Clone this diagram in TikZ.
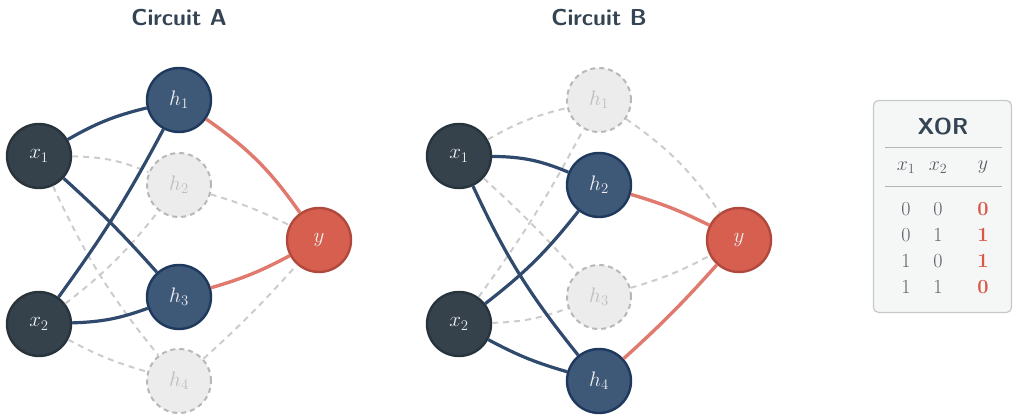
\documentclass[tikz,border=0pt]{standalone}
\usepackage{fix-cm}
\usepackage{fontspec}
\definecolor{inpfill}{RGB}{53,66,76}
\definecolor{inpdraw}{RGB}{40,52,60}
\definecolor{hidfill}{RGB}{62,88,120}
\definecolor{hiddraw}{RGB}{30,56,94}
\definecolor{idlefill}{RGB}{236,236,236}
\definecolor{idledraw}{RGB}{184,184,184}
\definecolor{idletext}{RGB}{190,190,190}
\definecolor{outfill}{RGB}{214,95,80}
\definecolor{outdraw}{RGB}{176,72,60}
\definecolor{nodetext}{RGB}{240,240,240}
\definecolor{wirecol}{RGB}{48,74,110}
\definecolor{redwire}{RGB}{224,122,110}
\definecolor{ghostcol}{RGB}{204,204,204}
\definecolor{titlecol}{RGB}{52,68,82}
\definecolor{boxfill}{RGB}{245,246,246}
\definecolor{boxdraw}{RGB}{198,201,203}
\definecolor{rulecol}{RGB}{176,181,184}
\definecolor{digitcol}{RGB}{88,96,102}
\definecolor{hotdigit}{RGB}{217,88,74}
\tikzset{
  neuron/.style={circle, minimum size=64pt, inner sep=0pt, line width=2.4pt,
    font=\fontsize{21}{25}\selectfont},
  inp/.style={neuron, fill=inpfill, draw=inpdraw, text=nodetext},
  hid/.style={neuron, fill=hidfill, draw=hiddraw, text=nodetext},
  idle/.style={neuron, fill=idlefill, draw=idledraw, line width=2pt,
    dash pattern=on 5pt off 4pt, text=idletext},
  outn/.style={neuron, fill=outfill, draw=outdraw, text=nodetext},
  wire/.style={draw=wirecol, line width=3.2pt},
  hotwire/.style={draw=redwire, line width=3.4pt},
  ghost/.style={draw=ghostcol, line width=2pt, dash pattern=on 6pt off 5pt},
  heading/.style={text=titlecol, font=\fontsize{23}{27}\selectfont\sffamily\bfseries},
  tablebox/.style={draw=boxdraw, fill=boxfill, line width=1.2pt, rounded corners=5pt},
  cell/.style={text=digitcol, font=\fontsize{20}{24}\selectfont},
  hotcell/.style={text=hotdigit, font=\fontsize{20}{24}\selectfont\bfseries},
  hrule/.style={draw=rulecol, line width=1pt},
  % curvature of each input -> hidden and hidden -> output link
  c11/.style={bend left=8},  c12/.style={bend left=11},
  c13/.style={bend left=3},  c14/.style={bend right=7},
  c21/.style={bend right=4}, c22/.style={bend right=7},
  c23/.style={bend right=9}, c24/.style={bend right=6},
  o1/.style={bend left=10},  o2/.style={bend left=5},
  o3/.style={bend right=6},  o4/.style={bend right=3},
}
\begin{document}
\begin{tikzpicture}[x=1pt, y=1pt]
\useasboundingbox (0,0) rectangle (1013,417);

% ---- Circuit A ----
\node[heading] (titleA) at (179,399) {Circuit A};
\node[inp]  (ax1) at (39,261) {$x_1$};
\node[inp]  (ax2) at (39,93)  {$x_2$};
\node[hid]  (ah1) at (179,317) {$h_1$};
\node[idle] (ah2) at (179,232) {$h_2$};
\node[hid]  (ah3) at (179,120) {$h_3$};
\node[idle] (ah4) at (179,36)  {$h_4$};
\node[outn] (ay)  at (319,177) {$y$};

\draw[ghost] (ax1) to[c12] (ah2);
\draw[ghost] (ax1) to[c14] (ah4);
\draw[ghost] (ax2) to[c22] (ah2);
\draw[ghost] (ax2) to[c24] (ah4);
\draw[ghost] (ah2) to[o2]  (ay);
\draw[ghost] (ah4) to[o4]  (ay);
\draw[wire] (ax1) to[c11] (ah1);
\draw[wire] (ax1) to[c13] (ah3);
\draw[wire] (ax2) to[c21] (ah1);
\draw[wire] (ax2) to[c23] (ah3);
\draw[hotwire] (ah1) to[o1] (ay);
\draw[hotwire] (ah3) to[o3] (ay);

% ---- Circuit B ----
\node[heading] (titleB) at (599,399) {Circuit B};
\node[inp]  (bx1) at (459,261) {$x_1$};
\node[inp]  (bx2) at (459,93)  {$x_2$};
\node[idle] (bh1) at (599,317) {$h_1$};
\node[hid]  (bh2) at (599,232) {$h_2$};
\node[idle] (bh3) at (599,120) {$h_3$};
\node[hid]  (bh4) at (599,36)  {$h_4$};
\node[outn] (by)  at (739,177) {$y$};

\draw[ghost] (bx1) to[c11] (bh1);
\draw[ghost] (bx1) to[c13] (bh3);
\draw[ghost] (bx2) to[c21] (bh1);
\draw[ghost] (bx2) to[c23] (bh3);
\draw[ghost] (bh1) to[o1]  (by);
\draw[ghost] (bh3) to[o3]  (by);
\draw[wire] (bx1) to[c12] (bh2);
\draw[wire] (bx1) to[c14] (bh4);
\draw[wire] (bx2) to[c22] (bh2);
\draw[wire] (bx2) to[c24] (bh4);
\draw[hotwire] (bh2) to[o2] (by);
\draw[hotwire] (bh4) to[o4] (by);

% ---- XOR truth table ----
\node[tablebox, minimum width=138pt, minimum height=212pt, inner sep=0pt] (xorbox) at (942.5,210.5) {};
\node[heading] (xortitle) at (943,290) {XOR};
\coordinate (r1l) at (885,269);
\coordinate (r1r) at (1002,269);
\coordinate (r2l) at (885,230);
\coordinate (r2r) at (1002,230);
\draw[hrule] (r1l) -- (r1r);
\draw[hrule] (r2l) -- (r2r);
\node[cell] (hx1) at (906,249) {$x_1$};
\node[cell] (hx2) at (938,249) {$x_2$};
\node[cell] (hy)  at (983,250) {$y$};
\node[cell] (c11) at (906,208) {0};
\node[cell] (c12) at (938,208) {0};
\node[hotcell] (c13) at (983,208) {0};
\node[cell] (c21) at (906,182) {0};
\node[cell] (c22) at (938,182) {1};
\node[hotcell] (c23) at (983,182) {1};
\node[cell] (c31) at (906,156) {1};
\node[cell] (c32) at (938,156) {0};
\node[hotcell] (c33) at (983,156) {1};
\node[cell] (c41) at (906,130) {1};
\node[cell] (c42) at (938,130) {1};
\node[hotcell] (c43) at (983,130) {0};
\end{tikzpicture}
\end{document}
